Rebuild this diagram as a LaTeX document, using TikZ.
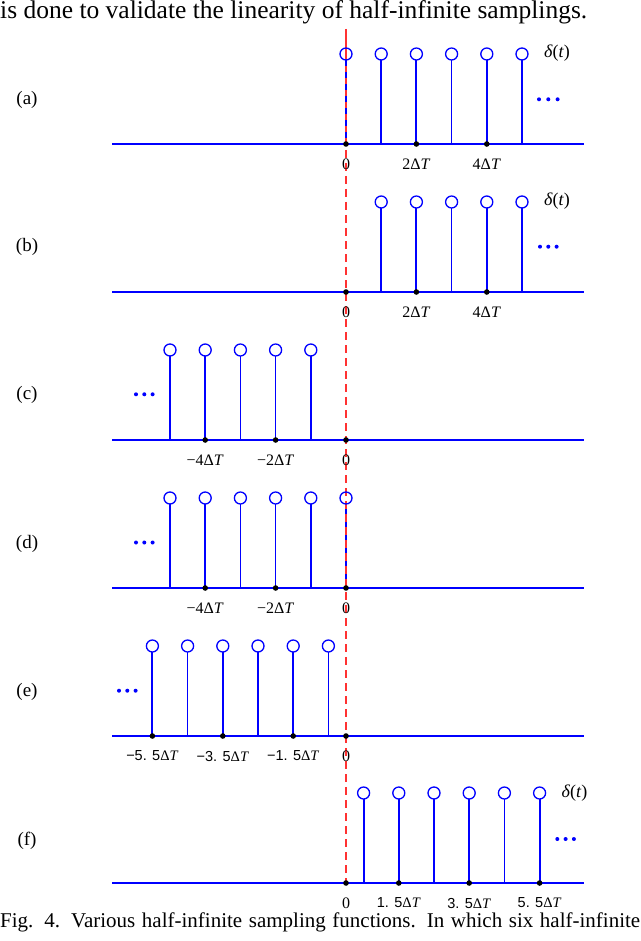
\documentclass[tikz,border=0pt]{standalone}
\usepackage{fontspec}
\setmainfont{Liberation Serif}
\newfontfamily\sansf{Liberation Sans}
\definecolor{redline}{RGB}{255,50,50}
\begin{document}
\begin{tikzpicture}[x=1pt,y=-1pt,
  axisline/.style={blue, line width=1.8pt},
  sampcirc/.style={blue, line width=1.3pt},
  zeroline/.style={redline, line width=1.3pt},
  zerodash/.style={redline, line width=1.3pt, dash pattern=on 8pt off 5pt},
  blackdot/.style={fill=black},
  bluedot/.style={fill=blue},
  ticklab/.style={inner sep=0pt, font=\fontsize{16}{18}\selectfont},
  sanslab/.style={inner sep=0pt, font=\fontsize{14.5}{17}\selectfont},
  panellab/.style={inner sep=0pt, font=\fontsize{19}{22}\selectfont},
  deltalab/.style={inner sep=0pt, font=\fontsize{18}{20}\selectfont},
  bodytext/.style={inner sep=0pt, anchor=base west}]
\useasboundingbox (0,0) rectangle (640,941);
\fill[white] (0,0) rectangle (640,941);
\def\xo{346}
\def\dd{35.2}

% red zero line
\draw[zeroline] (\xo,29) -- (\xo,144);
\draw[zerodash] (\xo,150) -- (\xo,883);

% top text and caption
\node[bodytext, font=\fontsize{25.5}{28}\selectfont] (toptext) at (0,19) {is done to validate the linearity of half-infinite samplings.};
\node[bodytext, font=\fontsize{21}{24}\selectfont] (caption) at (0,927) {\makebox[640pt][s]{Fig. 4. Various half-infinite sampling functions. In which six half-infinite}};

% ---------- panel (a) ----------
\def\ay{144}
\draw[axisline] (112,\ay) -- (584,\ay);
\draw[blue, line width=1.3pt, dash pattern=on 6pt off 6pt] (\xo,{\ay-84}) -- (\xo,\ay);
\foreach \k/\w in {1/1.5,2/2.0,3/1.5,4/1.7,5/1.9}
  \draw[blue, line width=\w pt] ({\xo+\k*\dd},{\ay-84}) -- ({\xo+\k*\dd},\ay);
\foreach \k in {0,...,5}
  \draw[sampcirc] ({\xo+\k*\dd},{\ay-90}) circle (6);
\foreach \k in {0,2,4}
  \fill[blackdot] ({\xo+\k*\dd},\ay) circle (2.8);
\node[ticklab] (a0) at (\xo,{\ay+20}) {0};
\node[ticklab] (a2) at ({\xo+2*\dd},{\ay+20}) {2Δ\textit{T}};
\node[ticklab] (a4) at ({\xo+4*\dd},{\ay+20}) {4Δ\textit{T}};
\node[deltalab] (adelta) at (557,53) {\textit{δ}(\textit{t})};
\foreach \x in {539,548.3,557.6} \fill[bluedot] (\x,99.3) circle (2);
\node[panellab] (alab) at (27,100) {(a)};

% ---------- panel (b) ----------
\def\ay{292}
\draw[axisline] (112,\ay) -- (584,\ay);
\foreach \k/\w in {1/1.5,2/2.0,3/1.5,4/1.7,5/1.9}
  \draw[blue, line width=\w pt] ({\xo+\k*\dd},{\ay-84}) -- ({\xo+\k*\dd},\ay);
\foreach \k in {1,...,5}
  \draw[sampcirc] ({\xo+\k*\dd},{\ay-90}) circle (6);
\foreach \k in {0,2,4}
  \fill[blackdot] ({\xo+\k*\dd},\ay) circle (2.8);
\node[ticklab] (b0) at (\xo,{\ay+20}) {0};
\node[ticklab] (b2) at ({\xo+2*\dd},{\ay+20}) {2Δ\textit{T}};
\node[ticklab] (b4) at ({\xo+4*\dd},{\ay+20}) {4Δ\textit{T}};
\node[deltalab] (bdelta) at (557,201.5) {\textit{δ}(\textit{t})};
\foreach \x in {540,548.3,556.6} \fill[bluedot] (\x,246.7) circle (2);
\node[panellab] (blab) at (27,247) {(b)};

% ---------- panel (c) ----------
\def\ay{440}
\draw[axisline] (112,\ay) -- (584,\ay);
\foreach \k/\w in {-5/1.5,-4/2.0,-3/1.5,-2/1.5,-1/1.9}
  \draw[blue, line width=\w pt] ({\xo+\k*\dd},{\ay-84}) -- ({\xo+\k*\dd},\ay);
\foreach \k in {-5,...,-1}
  \draw[sampcirc] ({\xo+\k*\dd},{\ay-90}) circle (6);
\foreach \k in {-4,-2,0}
  \fill[blackdot] ({\xo+\k*\dd},\ay) circle (2.8);
\node[ticklab] (c0) at (\xo,{\ay+20}) {0};
\node[ticklab] (c2) at ({\xo-2*\dd},{\ay+20}) {−2Δ\textit{T}};
\node[ticklab] (c4) at ({\xo-4*\dd},{\ay+20}) {−4Δ\textit{T}};
\foreach \x in {136,144.3,152.6} \fill[bluedot] (\x,394.3) circle (2);
\node[panellab] (clab) at (27,395) {(c)};

% ---------- panel (d) ----------
\def\ay{588}
\draw[axisline] (112,\ay) -- (584,\ay);
\foreach \k/\w in {-5/1.5,-4/2.0,-3/1.5,-2/1.5,-1/1.9,0/1.5}
  \draw[blue, line width=\w pt] ({\xo+\k*\dd},{\ay-84}) -- ({\xo+\k*\dd},\ay);
\draw[zerodash, dash phase=3pt] (\xo,{\ay-84}) -- (\xo,\ay);
\foreach \k in {-5,...,0}
  \draw[sampcirc] ({\xo+\k*\dd},{\ay-90}) circle (6);
\foreach \k in {-4,-2,0}
  \fill[blackdot] ({\xo+\k*\dd},\ay) circle (2.8);
\node[ticklab] (d0) at (\xo,{\ay+20}) {0};
\node[ticklab] (d2) at ({\xo-2*\dd},{\ay+20}) {−2Δ\textit{T}};
\node[ticklab] (d4) at ({\xo-4*\dd},{\ay+20}) {−4Δ\textit{T}};
\foreach \x in {136,144.3,152.6} \fill[bluedot] (\x,542.5) circle (2);
\node[panellab] (dlab) at (27,544) {(d)};

% ---------- panel (e) ----------
\def\ay{736}
\draw[axisline] (112,\ay) -- (584,\ay);
\foreach \k/\w in {-5.5/2.0,-4.5/1.5,-3.5/1.5,-2.5/2.0,-1.5/1.5,-0.5/1.5}
  \draw[blue, line width=\w pt] ({\xo+\k*\dd},{\ay-84}) -- ({\xo+\k*\dd},\ay);
\foreach \k in {-5.5,-4.5,-3.5,-2.5,-1.5,-0.5}
  \draw[sampcirc] ({\xo+\k*\dd},{\ay-90}) circle (6);
\foreach \k in {-5.5,-3.5,-1.5,0}
  \fill[blackdot] ({\xo+\k*\dd},\ay) circle (2.8);
\node[ticklab] (e0) at (\xo,{\ay+20}) {0};
\node[sanslab] (e1) at ({\xo-1.5*\dd},{\ay+20}) {{\sansf −1. 5}Δ\textit{T}};
\node[sanslab] (e3) at ({\xo-3.5*\dd},{\ay+20}) {{\sansf −3. 5}Δ\textit{T}};
\node[sanslab] (e5) at ({\xo-5.5*\dd},{\ay+20}) {{\sansf −5. 5}Δ\textit{T}};
\foreach \x in {119,127.3,135.6} \fill[bluedot] (\x,690.7) circle (2);
\node[panellab] (elab) at (27,692) {(e)};

% ---------- panel (f) ----------
\def\ay{883}
\draw[axisline] (112,\ay) -- (584,\ay);
\foreach \k/\w in {0.5/2.0,1.5/1.6,2.5/1.6,3.5/2.0,4.5/1.5,5.5/1.9}
  \draw[blue, line width=\w pt] ({\xo+\k*\dd},{\ay-84}) -- ({\xo+\k*\dd},\ay);
\foreach \k in {0.5,1.5,2.5,3.5,4.5,5.5}
  \draw[sampcirc] ({\xo+\k*\dd},{\ay-90}) circle (6);
\foreach \k in {0,1.5,3.5,5.5}
  \fill[blackdot] ({\xo+\k*\dd},\ay) circle (2.8);
\node[ticklab] (f0) at (\xo,{\ay+20}) {0};
\node[sanslab] (f1) at ({\xo+1.5*\dd},{\ay+20}) {{\sansf 1. 5}Δ\textit{T}};
\node[sanslab] (f3) at ({\xo+3.5*\dd},{\ay+20}) {{\sansf 3. 5}Δ\textit{T}};
\node[sanslab] (f5) at ({\xo+5.5*\dd},{\ay+20}) {{\sansf 5. 5}Δ\textit{T}};
\node[deltalab] (fdelta) at (574.5,793.5) {\textit{δ}(\textit{t})};
\foreach \x in {557.3,565.6,573.9} \fill[bluedot] (\x,839) circle (2);
\node[panellab] (flab) at (27,841) {(f)};
\end{tikzpicture}
\end{document}
